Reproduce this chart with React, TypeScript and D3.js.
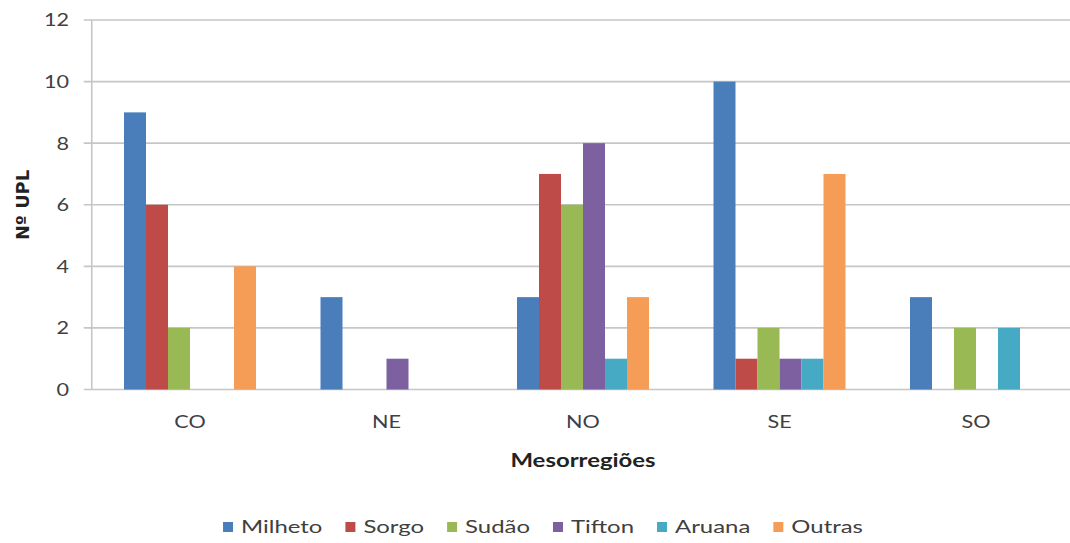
import React, { useEffect, useRef } from "react";
import * as d3 from "d3";

const regions = ["CO", "NE", "NO", "SE", "SO"];
const seriesNames = ["Milheto", "Sorgo", "Sudão", "Tifton", "Aruana", "Outras"];
const seriesColors = ["#4A7EBB", "#BE4B48", "#98B954", "#7D60A0", "#46AAC5", "#F59D56"];
const milheto = [9, 3, 3, 10, 3];
const sorgo = [6, 0, 7, 1, 0];
const sudao = [2, 0, 6, 2, 2];
const tifton = [0, 1, 8, 1, 0];
const aruana = [0, 0, 1, 1, 2];
const outras = [4, 0, 3, 7, 0];
const yTicks = [0, 2, 4, 6, 8, 10, 12];

const seriesValues = [milheto, sorgo, sudao, tifton, aruana, outras];

const W = 1070;
const H = 543;
const FONT = "Lato, 'Open Sans', sans-serif";
const TEXT = "#404040";

export default function App() {
  const ref = useRef<SVGSVGElement | null>(null);

  useEffect(() => {
    const svg = d3.select(ref.current);
    svg.selectAll("*").remove();

    const left = 91.75;
    const plotW = 982.5;
    const top = 20;
    const bottom = 389.5;

    const x0 = d3.scaleBand<string>().domain(regions).range([left, left + plotW]);
    const innerW = x0.bandwidth() * (132 / 196.5);
    const x1 = d3
      .scaleBand<string>()
      .domain(seriesNames)
      .range([(x0.bandwidth() - innerW) / 2, (x0.bandwidth() + innerW) / 2]);
    const y = d3.scaleLinear().domain([0, 12]).range([bottom, top]);

    // horizontal gridlines with short ticks to the left of the axis
    svg
      .append("g")
      .selectAll("line")
      .data(yTicks)
      .join("line")
      .attr("x1", left - 8)
      .attr("x2", W)
      .attr("y1", (d) => y(d))
      .attr("y2", (d) => y(d))
      .attr("stroke", "#c6c6c6")
      .attr("stroke-width", 1.6);

    // vertical axis line
    svg
      .append("line")
      .attr("x1", left)
      .attr("x2", left)
      .attr("y1", top)
      .attr("y2", bottom)
      .attr("stroke", "#c6c6c6")
      .attr("stroke-width", 1.6);

    // y tick labels (wide letterforms via a horizontal stretch)
    svg
      .append("g")
      .selectAll("text")
      .data(yTicks)
      .join("text")
      .attr("transform", (d) => `translate(69,${y(d)}) scale(1.2,1)`)
      .attr("dy", "0.36em")
      .attr("text-anchor", "end")
      .attr("font-family", FONT)
      .attr("font-size", 18)
      .attr("fill", TEXT)
      .text((d) => String(d));

    // bars
    const groups = svg
      .append("g")
      .selectAll("g")
      .data(regions)
      .join("g")
      .attr("transform", (d) => `translate(${x0(d)},0)`);

    groups
      .selectAll("rect")
      .data((_, i) => seriesNames.map((s, k) => ({ s, k, v: seriesValues[k][i] })))
      .join("rect")
      .filter((d) => d.v > 0)
      .attr("x", (d) => x1(d.s)!)
      .attr("width", x1.bandwidth())
      .attr("y", (d) => y(d.v))
      .attr("height", (d) => y(0) - y(d.v))
      .attr("fill", (d) => seriesColors[d.k]);

    // category labels
    svg
      .append("g")
      .selectAll("text")
      .data(regions)
      .join("text")
      .attr("transform", (d) => `translate(${x0(d)! + x0.bandwidth() / 2},428) scale(1.2,1)`)
      .attr("text-anchor", "middle")
      .attr("font-family", FONT)
      .attr("font-size", 18)
      .attr("fill", TEXT)
      .text((d) => d);

    // axis titles
    svg
      .append("text")
      .attr("transform", "translate(583,467) scale(1.33,1)")
      .attr("text-anchor", "middle")
      .attr("font-family", FONT)
      .attr("font-weight", "bold")
      .attr("font-size", 18)
      .attr("fill", "#222")
      .text("Mesorregiões");

    svg
      .append("text")
      .attr("transform", "translate(29,205) rotate(-90) scale(1.05,1)")
      .attr("text-anchor", "middle")
      .attr("font-family", "'DejaVu Sans', sans-serif")
      .attr("font-weight", "bold")
      .attr("font-size", 17)
      .attr("fill", "#222")
      .text("Nº UPL");

    // legend, laid out from measured text widths and centred
    const sx = 1.33;
    const legend = svg.append("g");
    const items = legend.selectAll("g").data(seriesNames).join("g");
    items
      .append("rect")
      .attr("width", 10)
      .attr("height", 10)
      .attr("y", -5)
      .attr("fill", (_, k) => seriesColors[k]);
    const labels = items
      .append("text")
      .attr("transform", `translate(18,0) scale(${sx},1)`)
      .attr("dy", "0.36em")
      .attr("font-family", FONT)
      .attr("font-size", 18)
      .attr("fill", TEXT)
      .text((d) => d);
    const widths: number[] = [];
    labels.each(function () {
      widths.push((this as SVGTextElement).getComputedTextLength() * sx);
    });
    const gap = 23;
    const itemW = widths.map((w) => 18 + w);
    const total = d3.sum(itemW) + gap * (itemW.length - 1);
    let cx = 543 - total / 2;
    const offsets: number[] = [];
    itemW.forEach((w) => {
      offsets.push(cx);
      cx += w + gap;
    });
    items.attr("transform", (_, k) => `translate(${offsets[k]},527)`);
  }, []);

  return (
    <svg ref={ref} width={W} height={H} style={{ position: "absolute", left: 0, top: 0, background: "#fff" }} />
  );
}
